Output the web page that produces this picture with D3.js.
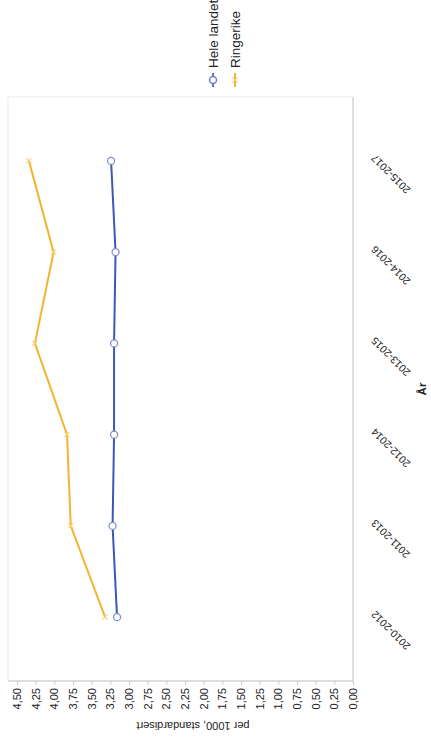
<!DOCTYPE html>
<html>
<head>
<meta charset="utf-8">
<script src="https://cdn.jsdelivr.net/npm/d3@7"></script>
<style>
  body { margin: 0; background: #fff; }
  text { font-family: "Liberation Sans", Arial, sans-serif; fill: #222; }
</style>
</head>
<body>
<div id="chart"></div>
<script>
// Line chart, scanned page turned on its side (drawn upright, then rotated)

// ==========================================================
// Data
var periods = ["2010-2012", "2011-2013", "2012-2014", "2013-2015", "2014-2016", "2015-2017"];
var heleLandet = [3.16, 3.22, 3.20, 3.20, 3.18, 3.24];
var ringerike = [3.32, 3.78, 3.83, 4.26, 4.01, 4.34];
var yTicks = d3.range(0, 4.5001, 0.25);
var seriesNames = ["Hele landet", "Ringerike"];

// ==========================================================
// Sizes (chart is drawn in an upright 746 x 431 frame)
var svgWidth = 431;
var svgHeight = 746;
var frameW = 746;

var plot = { left: 65, right: 649, top: 8, bottom: 353 };

var svg = d3.select("#chart")
  .append("svg")
  .attr("width", svgWidth)
  .attr("height", svgHeight);

svg.append("rect")
  .attr("width", svgWidth)
  .attr("height", svgHeight)
  .attr("fill", "#fff");

// rotate the whole chart a quarter turn counter-clockwise
var g = svg.append("g")
  .attr("transform", `translate(0, ${frameW}) rotate(-90)`);

// scales
var xScale = d3.scalePoint()
  .domain(periods)
  .range([plot.left, plot.right])
  .padding(0.7);

var yScale = d3.scaleLinear()
  .domain([0, 4.5])
  .range([plot.bottom, 17]);

// plot frame
g.append("rect")
  .attr("x", plot.left)
  .attr("y", plot.top)
  .attr("width", plot.right - plot.left)
  .attr("height", plot.bottom - plot.top)
  .attr("fill", "none")
  .attr("stroke", "#ececec");

// y axis
var leftAxis = d3.axisLeft(yScale)
  .tickValues(yTicks)
  .tickSize(4)
  .tickPadding(3)
  .tickFormat(d => d3.format(".2f")(d).replace(".", ","));

var yAxis = g.append("g")
  .attr("transform", `translate(${plot.left}, 0)`)
  .call(leftAxis);
yAxis.select(".domain").attr("stroke", "#c8c8c8").attr("d", `M0,${plot.top}V${plot.bottom}`);
yAxis.selectAll(".tick line").attr("stroke", "#c8c8c8");
yAxis.selectAll(".tick text").style("font-size", "11px").attr("fill", "#222");

// x axis
var bottomAxis = d3.axisBottom(xScale).tickSize(0).tickPadding(0);
var xAxis = g.append("g")
  .attr("transform", `translate(0, ${plot.bottom})`)
  .call(bottomAxis);
xAxis.select(".domain").attr("stroke", "#c8c8c8").attr("d", `M${plot.left},0H${plot.right}`);
xAxis.selectAll(".tick text")
  .style("font-size", "10.5px")
  .attr("fill", "#222")
  .attr("text-anchor", "end")
  .attr("dy", "0.35em")
  .attr("transform", "translate(4, 20) rotate(-45)");

// axis titles
g.append("text")
  .attr("transform", `translate(20, ${(17 + plot.bottom) / 2 + 8}) rotate(-90)`)
  .attr("text-anchor", "middle")
  .attr("dy", "0.35em")
  .style("font-size", "11px")
  .text("per 1000, standardisert");

g.append("text")
  .attr("x", (plot.left + plot.right) / 2)
  .attr("y", 426)
  .attr("text-anchor", "middle")
  .style("font-size", "11.5px")
  .style("font-weight", "bold")
  .text("År");

// lines
var line = d3.line()
  .x((d, i) => xScale(periods[i]))
  .y(d => yScale(d));

g.append("path")
  .datum(ringerike)
  .attr("fill", "none")
  .attr("stroke", "#f2b531")
  .attr("stroke-width", 2)
  .attr("d", line);

g.append("path")
  .datum(heleLandet)
  .attr("fill", "none")
  .attr("stroke", "#3b57b8")
  .attr("stroke-width", 2)
  .attr("d", line);

// markers
g.selectAll(".ringMark")
  .data(ringerike)
  .enter()
  .append("path")
  .attr("class", "ringMark")
  .attr("transform", (d, i) => `translate(${xScale(periods[i])}, ${yScale(d)})`)
  .attr("d", "M-2.5,-2.5L2.5,2.5M-2.5,2.5L2.5,-2.5")
  .attr("stroke", "#f7d27a")
  .attr("stroke-width", 1.2);

g.selectAll(".heleMark")
  .data(heleLandet)
  .enter()
  .append("circle")
  .attr("class", "heleMark")
  .attr("cx", (d, i) => xScale(periods[i]))
  .attr("cy", d => yScale(d))
  .attr("r", 3.5)
  .attr("fill", "#fff")
  .attr("stroke", "#7f8fcb")
  .attr("stroke-width", 1.3);

// legend
var legend = g.append("g")
  .attr("transform", "translate(659, 0)");

var legendItems = legend.selectAll(".item")
  .data(seriesNames)
  .enter()
  .append("g")
  .attr("class", "item")
  .attr("transform", (d, i) => `translate(0, ${213 + i * 22})`);

legendItems.append("line")
  .attr("x1", 0)
  .attr("x2", 14)
  .attr("stroke", (d, i) => i === 0 ? "#5a72c8" : "#f2b531")
  .attr("stroke-width", 2);

legendItems.filter((d, i) => i === 0)
  .append("circle")
  .attr("cx", 7)
  .attr("r", 3.5)
  .attr("fill", "#fff")
  .attr("stroke", "#6f82cb")
  .attr("stroke-width", 1.5);

legendItems.filter((d, i) => i === 1)
  .append("path")
  .attr("d", "M4.5,-2.5L9.5,2.5M4.5,2.5L9.5,-2.5")
  .attr("stroke", "#f7d27a")
  .attr("stroke-width", 1.2);

legendItems.append("text")
  .attr("x", 19)
  .attr("dy", "0.36em")
  .style("font-size", "13.5px")
  .text(d => d);
</script>
</body>
</html>
